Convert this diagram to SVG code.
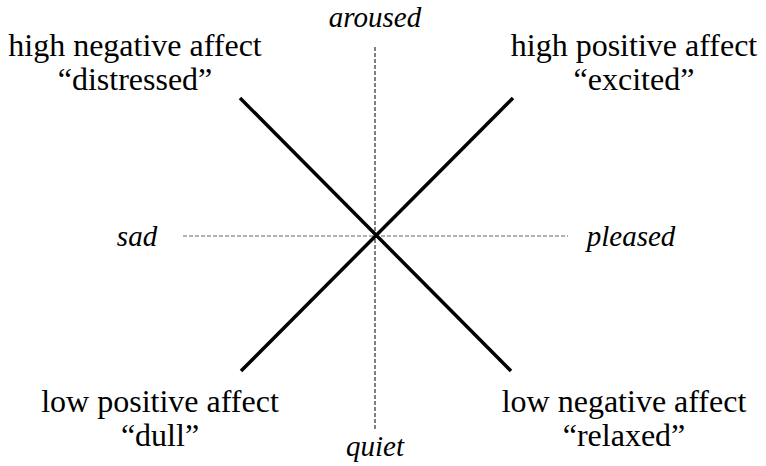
<svg xmlns="http://www.w3.org/2000/svg" width="766" height="466" viewBox="0 0 766 466">
<style>
.lbl{font-family:"Liberation Serif","Times New Roman",serif;font-size:32px;fill:#000;text-anchor:middle}
.ax{font-family:"Liberation Serif","Times New Roman",serif;font-size:29px;font-style:italic;fill:#000;text-anchor:middle}
.axis{fill:none;stroke-width:1;stroke-dasharray:4 2}
.diag{stroke:#000;stroke-width:3.5;fill:none}
</style>
<rect width="766" height="466" fill="#fff"/>
<g id="connectors">
<line class="axis" x1="375" y1="47" x2="375" y2="429" stroke="#000"/>
<line class="axis" x1="183" y1="236" x2="568" y2="236" stroke="#666"/>
<line class="diag" x1="240" y1="98" x2="511" y2="371"/>
<line class="diag" x1="513" y1="98" x2="241" y2="371"/>
</g>
<g id="aroused"><text class="ax" x="375" y="27">aroused</text></g>
<g id="quiet"><text class="ax" x="375" y="456">quiet</text></g>
<g id="sad"><text class="ax" x="137" y="246">sad</text></g>
<g id="pleased"><text class="ax" x="631" y="246">pleased</text></g>
<g id="high-negative"><text class="lbl" x="135" y="56">high negative affect</text><text class="lbl" x="135" y="90">“distressed”</text></g>
<g id="high-positive"><text class="lbl" x="634" y="56">high positive affect</text><text class="lbl" x="634" y="90">“excited”</text></g>
<g id="low-positive"><text class="lbl" x="160" y="412">low positive affect</text><text class="lbl" x="160" y="446">“dull”</text></g>
<g id="low-negative"><text class="lbl" x="624" y="412">low negative affect</text><text class="lbl" x="624" y="446">“relaxed”</text></g>
</svg>
